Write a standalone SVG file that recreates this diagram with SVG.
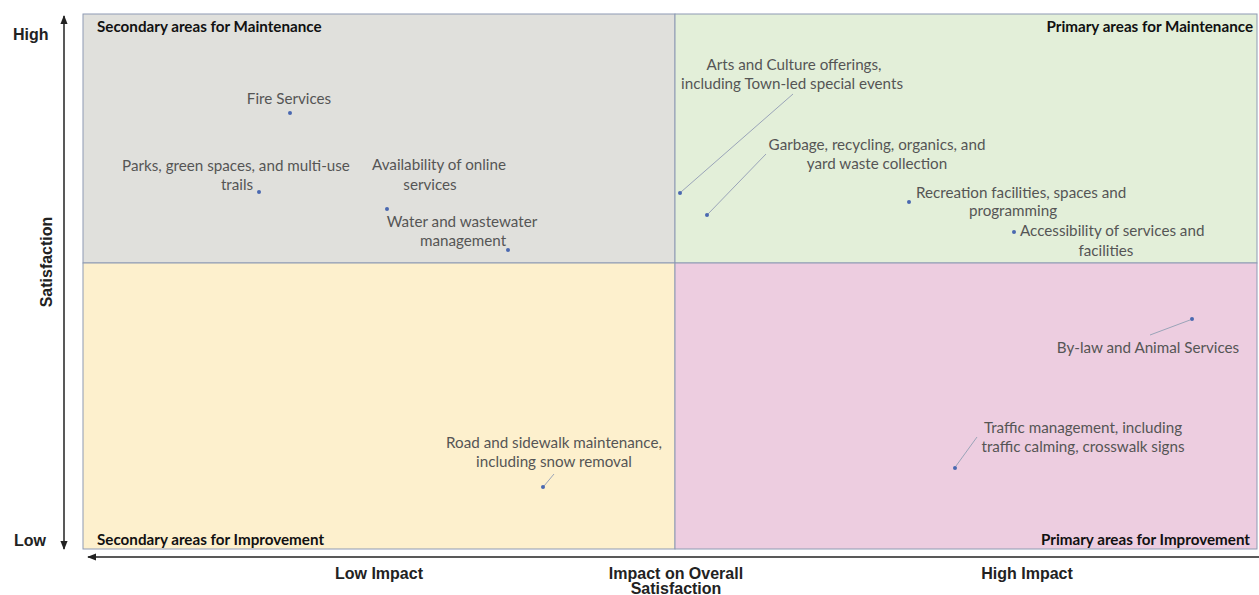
<svg xmlns="http://www.w3.org/2000/svg" width="1259" height="595" viewBox="0 0 1259 595">
<style>
.q{stroke:#8d9ab3;stroke-width:1}
.t{font-family:Lato,"Liberation Sans",sans-serif;font-weight:bold;font-size:15.2px;fill:#111}
.l{font-family:Lato,"Liberation Sans",sans-serif;font-size:15.2px;fill:#555}
.a{font-family:"Liberation Sans",Arial,sans-serif;font-weight:bold;font-size:16px;fill:#222}
.d{fill:#4a68b0}
.ld{stroke:#9aa4b8;stroke-width:1;fill:none}
.ax{stroke:#222;stroke-width:1.5;fill:none}
</style>
<defs>
<marker id="ah" viewBox="0 0 10 10" refX="9" refY="5" markerWidth="6" markerHeight="6" orient="auto-start-reverse">
<path d="M0,1 L10,5 L0,9 z" fill="#222"/>
</marker>
</defs>
<rect width="1259" height="595" fill="#fff"/>
<g id="q-sec-maint">
<rect class="q" x="83" y="14" width="592" height="249" fill="#e0e0dc"/>
<text class="t" x="97" y="32">Secondary areas for Maintenance</text>
</g>
<g id="q-pri-maint">
<rect class="q" x="675" y="14" width="582" height="249" fill="#e3efd9"/>
<text class="t" x="1253" y="32" text-anchor="end">Primary areas for Maintenance</text>
</g>
<g id="q-sec-imp">
<rect class="q" x="83" y="263" width="592" height="286" fill="#fdf0cd"/>
<text class="t" x="97" y="545">Secondary areas for Improvement</text>
</g>
<g id="q-pri-imp">
<rect class="q" x="675" y="263" width="582" height="286" fill="#edcde0"/>
<text class="t" x="1250" y="545" text-anchor="end">Primary areas for Improvement</text>
</g>
<g id="axes">
<line class="ax" x1="64" y1="549" x2="64" y2="16" marker-start="url(#ah)" marker-end="url(#ah)"/>
<line class="ax" x1="88" y1="557" x2="1262" y2="557" marker-start="url(#ah)"/>
<text class="a" x="13" y="40">High</text>
<text class="a" x="14" y="546">Low</text>
<text class="a" x="0" y="0" text-anchor="middle" transform="translate(52,262) rotate(-90)">Satisfaction</text>
<text class="a" x="379" y="579" text-anchor="middle">Low Impact</text>
<text class="a" x="676" y="579" text-anchor="middle">Impact on Overall</text>
<text class="a" x="676" y="594" text-anchor="middle">Satisfaction</text>
<text class="a" x="1027" y="579" text-anchor="middle">High Impact</text>
</g>
<g id="connectors">
<line class="ld" x1="681" y1="192" x2="793" y2="94"/>
<line class="ld" x1="708" y1="214" x2="766" y2="154"/>
<line class="ld" x1="1190" y1="320" x2="1150" y2="335"/>
<line class="ld" x1="956" y1="466" x2="977" y2="437"/>
<line class="ld" x1="544" y1="486" x2="554" y2="474"/>
</g>
<g id="fire-services">
<text class="l" x="289" y="104" text-anchor="middle">Fire Services</text>
<circle class="d" cx="290" cy="113" r="2"/>
</g>
<g id="parks">
<text class="l" x="236" y="171" text-anchor="middle">Parks, green spaces, and multi-use</text>
<text class="l" x="237" y="190" text-anchor="middle">trails</text>
<circle class="d" cx="259" cy="192" r="2"/>
</g>
<g id="online">
<text class="l" x="439" y="170" text-anchor="middle">Availability of online</text>
<text class="l" x="430" y="190" text-anchor="middle">services</text>
<circle class="d" cx="387" cy="209" r="2"/>
</g>
<g id="water">
<text class="l" x="462" y="227" text-anchor="middle">Water and wastewater</text>
<text class="l" x="463" y="246" text-anchor="middle">management</text>
<circle class="d" cx="508" cy="250" r="2"/>
</g>
<g id="arts">
<text class="l" x="794" y="70" text-anchor="middle">Arts and Culture offerings,</text>
<text class="l" x="792" y="89" text-anchor="middle">including Town-led special events</text>
<circle class="d" cx="680" cy="193" r="2"/>
</g>
<g id="garbage">
<text class="l" x="877" y="150" text-anchor="middle">Garbage, recycling, organics, and</text>
<text class="l" x="877" y="169" text-anchor="middle">yard waste collection</text>
<circle class="d" cx="707" cy="215" r="2"/>
</g>
<g id="recreation">
<text class="l" x="916" y="198">Recreation facilities, spaces and</text>
<text class="l" x="1013" y="216" text-anchor="middle">programming</text>
<circle class="d" cx="909" cy="202" r="2"/>
</g>
<g id="accessibility">
<text class="l" x="1020" y="236">Accessibility of services and</text>
<text class="l" x="1106" y="256" text-anchor="middle">facilities</text>
<circle class="d" cx="1014" cy="232" r="2"/>
</g>
<g id="bylaw">
<text class="l" x="1148" y="353" text-anchor="middle">By-law and Animal Services</text>
<circle class="d" cx="1192" cy="319" r="2"/>
</g>
<g id="traffic">
<text class="l" x="1083" y="433" text-anchor="middle">Traffic management, including</text>
<text class="l" x="1083" y="452" text-anchor="middle">traffic calming, crosswalk signs</text>
<circle class="d" cx="955" cy="468" r="2"/>
</g>
<g id="road">
<text class="l" x="554" y="448" text-anchor="middle">Road and sidewalk maintenance,</text>
<text class="l" x="554" y="467" text-anchor="middle">including snow removal</text>
<circle class="d" cx="543" cy="487" r="2"/>
</g>
</svg>
